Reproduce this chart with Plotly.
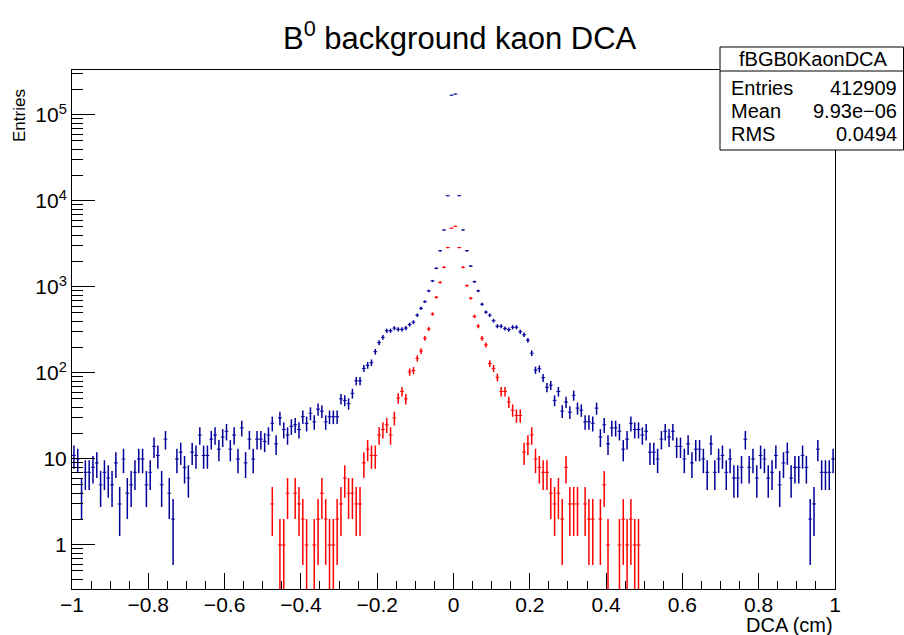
import math
import plotly.graph_objects as go

# ---------------- data ----------------
NBINS = 200
XMIN = -1.0
XMAX = 1.0

blue_counts = [
    11, 10, 4, 7, 7, 8, 9, 5, 7, 6,
    5, 9, 3, 10, 4, 5, 7, 10, 10, 5,
    7, 14, 11, 5, 17, 4, 2, 10, 12, 8,
    6, 12, 11, 19, 11, 11, 17, 19, 13, 18,
    21, 13, 19, 10, 23, 9, 17, 10, 17, 17,
    16, 19, 26, 15, 30, 22, 19, 24, 25, 22,
    31, 26, 34, 27, 38, 36, 27, 31, 31, 31,
    50, 48, 44, 58, 81, 81, 113, 123, 132, 177,
    225, 260, 310, 310, 332, 322, 322, 333, 365, 390,
    470, 565, 675, 900, 1175, 1650, 2640, 4600, 11500, 170000,
    175000, 11500, 4600, 2640, 1750, 1150, 900, 630, 510, 470,
    405, 350, 350, 330, 320, 340, 340, 302, 278, 240,
    170, 108, 112, 88, 68, 72, 48, 61, 36, 46,
    35, 55, 39, 37, 27, 27, 26, 39, 18, 25,
    15, 23, 23, 21, 13, 17, 26, 22, 22, 19,
    21, 12, 12, 10, 17, 21, 18, 21, 14, 14,
    10, 15, 9, 13, 13, 10, 7, 15, 7, 10,
    11, 7, 10, 6, 6, 8, 17, 8, 10, 6,
    11, 10, 6, 7, 11, 5, 9, 12, 6, 8,
    8, 11, 8, 2, 3, 13, 7, 7, 7, 10,
]

RED_FIRST_BIN = 52
red_counts = [
    3, 0, 1, 1, 4, 0, 4, 3, 2, 1,
    0, 1, 2, 4, 2, 1, 1, 2, 3, 6,
    4, 4, 3, 3, 9, 13, 11, 11, 19, 22,
    25, 19, 30, 51, 61, 50, 103, 107, 148, 180,
    253, 325, 485, 760, 1133, 1695, 2870, 4820, 5070, 2870,
    1695, 1035, 740, 455, 350, 253, 212, 129, 113, 89,
    61, 61, 46, 37, 32, 32, 12, 15, 19, 10,
    8, 7, 7, 4, 3, 4, 2, 8, 3, 3,
    3, 0, 3, 2, 2, 0, 2, 5, 1, 0,
    0, 1, 2, 1, 2, 1, 1,
]

title_text = "B<sup>0</sup> background kaon DCA"
x_title = "DCA (cm)"
y_title = "Entries"
stats_name = "fBGB0KaonDCA"
stats_rows = [("Entries", "412909"), ("Mean", "9.93e\u221206"), ("RMS", "0.0494")]
y_tick_vals = [1, 10, 100, 1000, 10000, 100000]
y_tick_text = ["1", "10", "10<sup>2</sup>", "10<sup>3</sup>", "10<sup>4</sup>", "10<sup>5</sup>"]

# ---------------- helpers ----------------
W, H = 904, 635
L, R, T, B = 72, 835, 70, 589
BLUE = "#000099"
RED = "#ff0000"
FONT = "Liberation Sans, Arial, sans-serif"

bw = (XMAX - XMIN) / NBINS


def hist_points(counts, first):
    xs, ys, es = [], [], []
    for k, c in enumerate(counts):
        if c <= 0:
            continue
        i = first + k
        xs.append(XMIN + (i + 0.5) * bw)
        ys.append(c)
        es.append(math.sqrt(c))
    return xs, ys, es


def px(xp):
    return (xp - L) / (R - L)


def py(yp):
    return (B - yp) / (B - T)


fig = go.Figure()
for counts, first, col in [(blue_counts, 0, BLUE), (red_counts, RED_FIRST_BIN, RED)]:
    xs, ys, es = hist_points(counts, first)
    fig.add_trace(go.Scatter(
        x=xs, y=ys, mode="markers",
        marker=dict(size=1, color=col),
        error_x=dict(type="constant", value=bw / 2, width=0, thickness=1, color=col),
        error_y=dict(type="data", array=es, symmetric=True, width=0, thickness=1.5, color=col),
        showlegend=False, hoverinfo="skip",
    ))

minor_y = [m * 10 ** k for k in range(-1, 6) for m in range(2, 10)]

fig.update_layout(
    width=W, height=H,
    margin=dict(l=L, r=W - R, t=T, b=H - B, pad=0),
    paper_bgcolor="white", plot_bgcolor="white",
    font=dict(family=FONT, size=21, color="black"),
    showlegend=False,
    xaxis=dict(
        range=[XMIN, XMAX], showgrid=False, zeroline=False,
        showline=True, linecolor="black", linewidth=1, mirror=True,
        ticks="inside", ticklen=16, tickwidth=1, tickcolor="black",
        dtick=0.2, tick0=-1, tickfont=dict(size=21), ticklabelstandoff=-3,
        minor=dict(ticks="inside", ticklen=8, tickwidth=1, tickcolor="black", dtick=0.05, showgrid=False),
    ),
    yaxis=dict(
        type="log", range=[-0.512, 5.523], showgrid=False, zeroline=False,
        showline=True, linecolor="black", linewidth=1, mirror=True,
        ticks="inside", ticklen=23, tickwidth=1, tickcolor="black",
        tickvals=y_tick_vals, ticktext=y_tick_text, tickfont=dict(size=21),
        minor=dict(ticks="inside", ticklen=11, tickwidth=1, tickcolor="black", tickvals=minor_y, showgrid=False),
    ),
)

ann = []
ann.append(dict(text=title_text, x=px(459.5), y=py(36), xref="paper", yref="paper",
                xanchor="center", yanchor="middle", showarrow=False, font=dict(size=31)))
ann.append(dict(text=x_title, x=px(835), y=py(625), xref="paper", yref="paper",
                xanchor="right", yanchor="middle", showarrow=False, font=dict(size=20)))
ann.append(dict(text=y_title, x=px(19), y=py(116), xref="paper", yref="paper",
                xanchor="center", yanchor="middle", textangle=-90, showarrow=False, font=dict(size=17)))

# stats box
bx0, bx1, by0, by1, bsep = 720, 903.5, 47, 150, 71
shapes = [
    dict(type="rect", xref="paper", yref="paper", x0=px(bx0), x1=px(bx1), y0=py(by1), y1=py(by0),
         line=dict(color="black", width=1), fillcolor="white", layer="above"),
    dict(type="line", xref="paper", yref="paper", x0=px(bx0), x1=px(bx1), y0=py(bsep), y1=py(bsep),
         line=dict(color="black", width=1), layer="above"),
]
ann.append(dict(text=stats_name, x=px(813), y=py(59.5), xref="paper", yref="paper",
                xanchor="center", yanchor="middle", showarrow=False, font=dict(size=20)))
for k, (lab, val) in enumerate(stats_rows):
    yy = 88 + k * 23
    ann.append(dict(text=lab, x=px(729), y=py(yy), xref="paper", yref="paper",
                    xanchor="left", yanchor="middle", showarrow=False, font=dict(size=20)))
    ann.append(dict(text=val, x=px(899), y=py(yy), xref="paper", yref="paper",
                    xanchor="right", yanchor="middle", showarrow=False, font=dict(size=20)))

fig.update_layout(annotations=ann, shapes=shapes)
fig.write_html("out.html")
